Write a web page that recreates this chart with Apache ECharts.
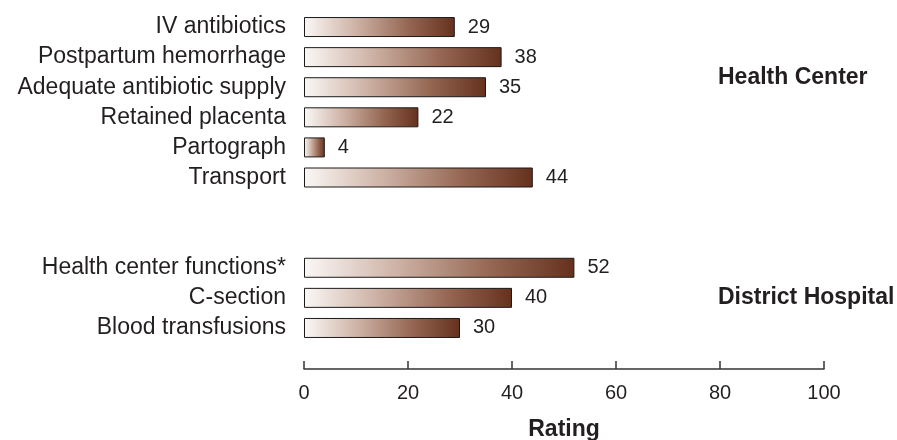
<!DOCTYPE html>
<html>
<head>
<meta charset="utf-8">
<script src="https://cdn.jsdelivr.net/npm/echarts@6/dist/echarts.min.js"></script>
<style>
html,body{margin:0;padding:0;background:#fff;}
#chart{width:897px;height:440px;}
</style>
</head>
<body>
<div id="chart"></div>
<script>
var categories = ['IV antibiotics','Postpartum hemorrhage','Adequate antibiotic supply','Retained placenta','Partograph','Transport','','','Health center functions*','C-section','Blood transfusions'];
var values = [29,38,35,22,4,44,'-','-',52,40,30];
var xTicks = [0,20,40,60,80,100];
var groupLabels = ['Health Center','District Hospital'];

var txt = '#231f20';
var font = "'Liberation Sans', Arial, Helvetica, sans-serif";
var chart = echarts.init(document.getElementById('chart'));
chart.setOption({
  backgroundColor:'#fff',
  animation:false,
  grid:{left:304,right:73,top:12,bottom:97,containLabel:false,outerBoundsMode:'none'},
  xAxis:{
    type:'value',min:xTicks[0],max:xTicks[xTicks.length-1],interval:20,
    offset:26,
    name:'Rating',nameLocation:'middle',nameGap:49,
    nameTextStyle:{fontFamily:font,fontSize:23,fontWeight:'bold',color:txt},
    axisLine:{show:true,lineStyle:{color:'#333',width:1.5}},
    axisTick:{show:true,inside:true,length:8,lineStyle:{color:'#333',width:1.5}},
    axisLabel:{margin:14,fontFamily:font,fontSize:20,color:txt},
    splitLine:{show:false}
  },
  yAxis:{
    type:'category',data:categories,inverse:true,
    axisLine:{show:false},axisTick:{show:false},
    axisLabel:{interval:0,margin:18,fontFamily:font,fontSize:23,color:txt}
  },
  series:[{
    type:'bar',data:values,barWidth:20,
    itemStyle:{
      borderColor:'#1a1a1a',borderWidth:1,
      color:new echarts.graphic.LinearGradient(0,0,1,0,[
        {offset:0,color:'#fbf8f6'},
        {offset:0.35,color:'#cdb1a4'},
        {offset:0.7,color:'#946551'},
        {offset:1,color:'#65311d'}
      ])
    },
    label:{show:true,position:'right',distance:13,fontFamily:font,fontSize:20,color:txt}
  }],
  graphic:[
    {type:'text',left:718,top:66,style:{text:groupLabels[0],fontFamily:font,fontSize:23,fontWeight:'bold',fill:txt}},
    {type:'text',left:718,top:286,style:{text:groupLabels[1],fontFamily:font,fontSize:23,fontWeight:'bold',fill:txt}}
  ]
});
</script>
</body>
</html>
